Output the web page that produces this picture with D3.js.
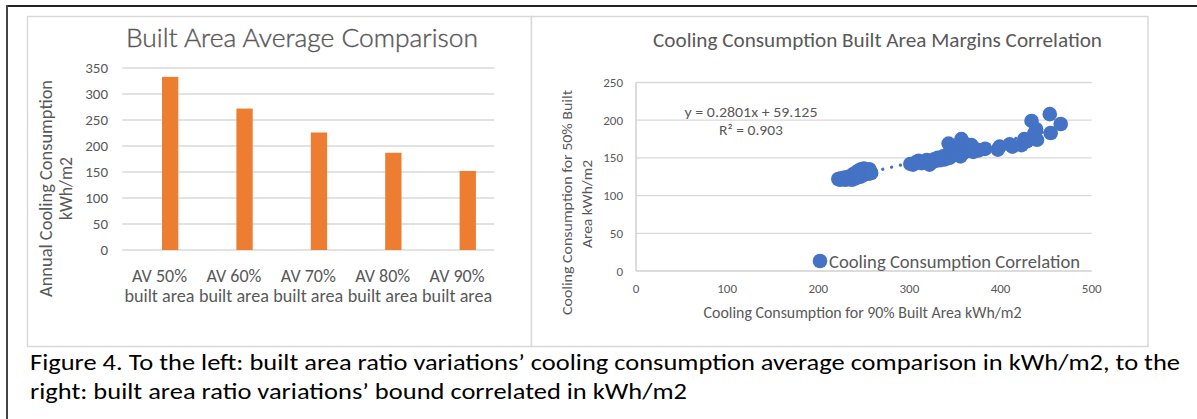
<!DOCTYPE html>
<html>
<head>
<meta charset="utf-8">
<script src="https://cdn.jsdelivr.net/npm/d3@7"></script>
<style>
  html, body { margin: 0; padding: 0; background: #fff; }
  svg { display: block; }
  text { font-family: Carlito, Calibri, "Noto Sans", "Open Sans", sans-serif; }
  text.light { font-family: Lato, Carlito, sans-serif; font-weight: 300; stroke: #595959; stroke-width: 0.4px; }
</style>
</head>
<body>
<svg id="chart" width="1197" height="419"></svg>
<script>
// ---------- DATA ----------
const barCategories = ["AV 50%", "AV 60%", "AV 70%", "AV 80%", "AV 90%"];
const barCategorySub = "built area";
const barValues = [333, 272, 226, 187, 152];
const barTicks = [0, 50, 100, 150, 200, 250, 300, 350];

const scatterX = [222,224,225,227,229,230,232,233,235,236,237,238,239,240,241,242,243,244,245,246,247,248,249,250,251,252,253,254,255,256,257,258,246,243,
  301,304,307,310,313,316,319,322,324,327,329,331,334,337,339,341,343,344,346,348,350,351,353,355,356,357,358,360,362,364,366,368,370,372,376,383,397,399,410,413,423,426,429,434,437,439,440,454,455,466];
const scatterY = [122,121,123,122,124,121,123,125,122,126,121,124,129,127,123,131,126,133,128,125,135,130,127,136,132,129,134,131,129,135,132,130,131,129,
  142,141,144,146,143,145,147,141,144,148,146,150,147,152,148,153,169,150,156,160,154,163,158,165,152,175,161,157,168,163,160,167,158,162,160,162,161,165,168,165,167,175,172,199,182,188,174,208,183,195];
const scatterXTicks = [0, 100, 200, 300, 400, 500];
const scatterYTicks = [0, 50, 100, 150, 200, 250];
const trendSlope = 0.2801;
const trendIntercept = 59.125;
const trendLabel = "y = 0.2801x + 59.125";
const r2Label = "R² = 0.903";
const legendLabel = "Cooling Consumption Correlation";

const leftTitle = "Built Area Average Comparison";
const leftYTitle = ["Annual Cooling Consumption", "kWh/m2"];
const rightTitle = "Cooling Consumption Built Area Margins Correlation";
const rightXTitle = "Cooling Consumption for 90% Built Area kWh/m2";
const rightYTitle = ["Cooling Consumption for 50% Built", "Area kWh/m2"];
const captionLines = [
  "Figure 4. To the left: built area ratio variations’ cooling consumption average comparison in kWh/m2, to the",
  "right: built area ratio variations’ bound correlated in kWh/m2"
];

// ---------- DRAW ----------
const svg = d3.select("#chart");
const TXT = "#595959", GRID = "#d9d9d9", ORANGE = "#ED7D31", BLUE = "#4472C4";

// outer frame lines
svg.append("line").attr("x1", 7).attr("x2", 1197).attr("y1", 6).attr("y2", 6)
  .attr("stroke", "#222").attr("stroke-width", 2);
svg.append("line").attr("x1", 7).attr("x2", 7).attr("y1", 5).attr("y2", 419)
  .attr("stroke", "#444").attr("stroke-width", 2);

// panels
svg.append("rect").attr("x", 27.5).attr("y", 16.5).attr("width", 504).attr("height", 330)
  .attr("fill", "#fff").attr("stroke", GRID).attr("stroke-width", 1.5);
svg.append("rect").attr("x", 531.5).attr("y", 16.5).attr("width", 616.5).attr("height", 330)
  .attr("fill", "#fff").attr("stroke", GRID).attr("stroke-width", 1.5);

function fitText(sel, len) {
  return sel.attr("textLength", len).attr("lengthAdjust", "spacingAndGlyphs");
}

// ---------- LEFT BAR CHART ----------
const L = svg.append("g");
const xL = d3.scaleBand().domain(barCategories).range([122.3, 494.3]);
const yL = d3.scaleLinear().domain([0, 350]).range([250, 68]);

L.append("g").selectAll("line").data(barTicks).join("line")
  .attr("x1", 122.3).attr("x2", 494.3)
  .attr("y1", d => yL(d)).attr("y2", d => yL(d))
  .attr("stroke", GRID).attr("stroke-width", 1.3);

L.append("g").selectAll("text").data(barTicks).join("text")
  .attr("x", 108).attr("y", d => yL(d)).attr("dy", "0.35em")
  .attr("text-anchor", "end").attr("fill", TXT).attr("font-size", 15)
  .text(d => d);

L.append("g").selectAll("rect").data(barValues).join("rect")
  .attr("x", (d, i) => xL(barCategories[i]) + xL.bandwidth() / 2 + 2.5)
  .attr("width", 16.3)
  .attr("y", d => yL(d))
  .attr("height", d => yL(0) - yL(d))
  .attr("fill", ORANGE);

const catG = L.append("g").selectAll("g").data(barCategories).join("g");
catG.append("text")
  .attr("x", d => xL(d) + xL.bandwidth() / 2).attr("y", 281.5)
  .attr("text-anchor", "middle").attr("fill", TXT).attr("font-size", 18)
  .text(d => d);
catG.append("text")
  .attr("x", d => xL(d) + xL.bandwidth() / 2).attr("y", 301.5)
  .attr("text-anchor", "middle").attr("fill", TXT).attr("font-size", 18)
  .call(fitText, 70)
  .text(barCategorySub);

fitText(L.append("text").attr("class", "light").attr("x", 302).attr("y", 46.7).attr("text-anchor", "middle")
  .attr("fill", TXT).attr("font-size", 26), 352).text(leftTitle);

fitText(L.append("text").attr("transform", "translate(51.5,188.5) rotate(-90)")
  .attr("text-anchor", "middle").attr("fill", TXT).attr("font-size", 18), 217).text(leftYTitle[0]);
fitText(L.append("text").attr("transform", "translate(72,188.5) rotate(-90)")
  .attr("text-anchor", "middle").attr("fill", TXT).attr("font-size", 18), 63).text(leftYTitle[1]);

// ---------- RIGHT SCATTER CHART ----------
const R = svg.append("g");
const xR = d3.scaleLinear().domain([0, 500]).range([636, 1091.7]);
const yR = d3.scaleLinear().domain([0, 250]).range([271, 82.5]);

R.append("g").selectAll("line").data(scatterYTicks.filter(d => d > 0)).join("line")
  .attr("x1", xR(0)).attr("x2", xR(500))
  .attr("y1", d => yR(d)).attr("y2", d => yR(d))
  .attr("stroke", GRID).attr("stroke-width", 1.3);
// axis lines
R.append("line").attr("x1", xR(0)).attr("x2", xR(500)).attr("y1", yR(0)).attr("y2", yR(0))
  .attr("stroke", "#d0d0d0").attr("stroke-width", 1.5);
R.append("line").attr("x1", xR(0)).attr("x2", xR(0)).attr("y1", yR(0)).attr("y2", yR(250))
  .attr("stroke", "#d0d0d0").attr("stroke-width", 1.5);

R.append("g").selectAll("text").data(scatterYTicks).join("text")
  .attr("x", 623).attr("y", d => yR(d)).attr("dy", "0.35em")
  .attr("text-anchor", "end").attr("fill", TXT).attr("font-size", 13)
  .text(d => d);
R.append("g").selectAll("text").data(scatterXTicks).join("text")
  .attr("x", d => xR(d)).attr("y", 292.5)
  .attr("text-anchor", "middle").attr("fill", TXT).attr("font-size", 13)
  .text(d => d);

// trendline
const tx0 = d3.min(scatterX), tx1 = d3.max(scatterX);
R.append("line")
  .attr("x1", xR(tx0)).attr("y1", yR(trendSlope * tx0 + trendIntercept))
  .attr("x2", xR(tx1)).attr("y2", yR(trendSlope * tx1 + trendIntercept))
  .attr("stroke", BLUE).attr("stroke-width", 3.2)
  .attr("stroke-linecap", "round").attr("stroke-dasharray", "0.1 9");

// points
R.append("g").selectAll("circle").data(scatterX).join("circle")
  .attr("cx", d => xR(d)).attr("cy", (d, i) => yR(scatterY[i]))
  .attr("r", 7.3).attr("fill", BLUE);

// equation labels
fitText(R.append("text").attr("x", 751).attr("y", 116.5).attr("text-anchor", "middle")
  .attr("fill", TXT).attr("font-size", 15), 133).text(trendLabel);
fitText(R.append("text").attr("x", 751).attr("y", 135).attr("text-anchor", "middle")
  .attr("fill", TXT).attr("font-size", 15), 64).text(r2Label);

// legend
R.append("circle").attr("cx", 820).attr("cy", 261).attr("r", 7.3).attr("fill", BLUE);
fitText(R.append("text").attr("x", 829).attr("y", 267.5)
  .attr("fill", TXT).attr("font-size", 18.5), 251).text(legendLabel);

// titles
fitText(R.append("text").attr("x", 653).attr("y", 47)
  .attr("fill", TXT).attr("font-size", 20), 449).text(rightTitle);
fitText(R.append("text").attr("x", 862.6).attr("y", 318).attr("text-anchor", "middle")
  .attr("fill", TXT).attr("font-size", 15.5), 318).text(rightXTitle);
fitText(R.append("text").attr("transform", "translate(572,202.5) rotate(-90)")
  .attr("text-anchor", "middle").attr("fill", TXT).attr("font-size", 15), 225).text(rightYTitle[0]);
fitText(R.append("text").attr("transform", "translate(592,204) rotate(-90)")
  .attr("text-anchor", "middle").attr("fill", TXT).attr("font-size", 15), 88).text(rightYTitle[1]);

// ---------- CAPTION ----------
fitText(svg.append("text").attr("x", 30).attr("y", 370).attr("fill", "#000")
  .attr("font-size", 22.5), 1150).text(captionLines[0]);
fitText(svg.append("text").attr("x", 30).attr("y", 399).attr("fill", "#000")
  .attr("font-size", 22.5), 657).text(captionLines[1]);
</script>
</body>
</html>
